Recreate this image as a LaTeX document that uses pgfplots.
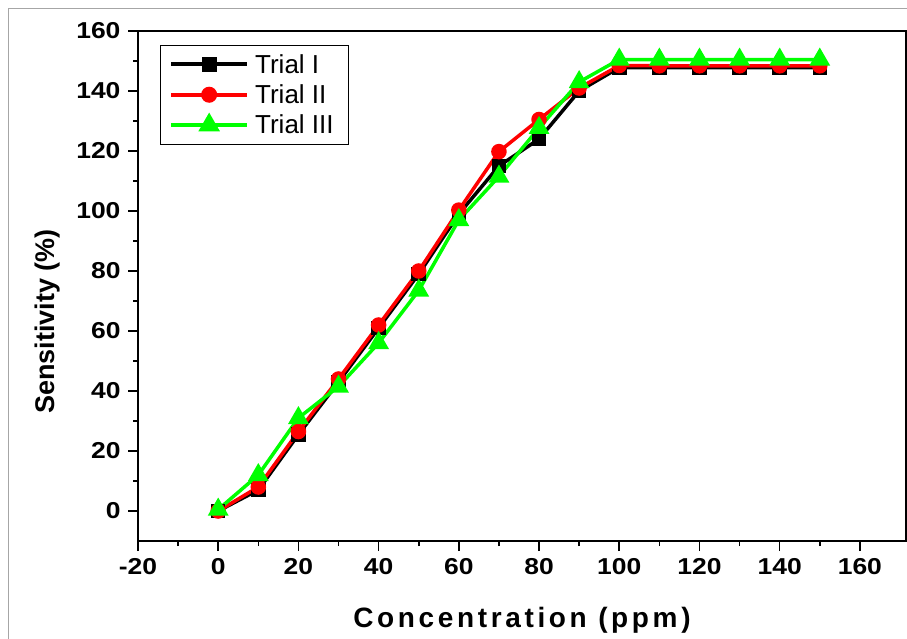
\documentclass[border=0pt]{standalone}
\usepackage{pgfplots}
\pgfplotsset{compat=1.18}
\usepackage{fontspec}
\setmainfont{Liberation Sans}
\newfontfamily\spacedfont[LetterSpace=13]{Liberation Sans}
\newfontfamily\tickfont[FakeStretch=1.15]{Liberation Sans}
\begin{document}
\begin{tikzpicture}
\useasboundingbox (0,0) rectangle (907pt,-638pt);
\draw[gray!70, line width=1pt] (8pt,-8pt) rectangle (930pt,-660pt);
\begin{axis}[
  at={(138pt,-541pt)}, anchor=south west,
  scale only axis, width=768pt, height=510pt,
  xmin=-20, xmax=171.5, ymin=-10, ymax=160,
  xtick={-20,0,...,160}, ytick={0,20,...,160},
  minor x tick num=1, minor y tick num=1,
  tick align=outside, xtick pos=bottom, ytick pos=left,
  major tick length=10pt, minor tick length=5pt,
  axis line style={line width=2pt},
  every tick/.style={line width=1.6pt, black},
  /pgf/number format/assume math mode=true,
  ticklabel style={font=\tickfont\bfseries\fontsize{23}{25}\selectfont},
  xticklabel style={yshift=-4pt},
  yticklabel style={xshift=-4pt},
  xlabel={\spacedfont\bfseries\fontsize{28}{30}\selectfont Concentration (ppm)},
  ylabel={\bfseries\fontsize{27}{29}\selectfont Sensitivity (\%)},
  xlabel style={at={(axis description cs:0.5,-0.155)}, anchor=center},
  ylabel style={at={(axis description cs:-0.118,0.43)}, anchor=center},
  legend style={at={(0.0286,0.9725)}, anchor=north west, draw=black,
    font=\fontsize{26}{28}\selectfont, inner xsep=9pt, inner ysep=7pt, row sep=6pt,
    legend cell align=left,
    nodes={inner xsep=6pt}},
  legend image code/.code={
    \draw[line width=4pt, mark repeat=2,mark phase=2] plot coordinates {(0pt,0pt) (38pt,0pt) (76pt,0pt)};
  },
]
\addplot[black, line width=3.5pt, mark=square*, mark size=5.5pt, mark options={solid}] coordinates {
(0,0) (10,7) (20,25.5) (30,43) (40,61) (50,79) (60,99) (70,115) (80,124) (90,140)
(100,147.8) (110,147.8) (120,147.8) (130,147.8) (140,147.8) (150,147.8)};
\addlegendentry{Trial I}
\addplot[red, line width=3.5pt, mark=*, mark size=6pt, mark options={solid}] coordinates {
(0,0) (10,8) (20,26.5) (30,44) (40,62) (50,80) (60,100.3) (70,119.8) (80,130.5) (90,141)
(100,148.5) (110,148.4) (120,148.4) (130,148.4) (140,148.4) (150,148.4)};
\addlegendentry{Trial II}
\addplot[green, line width=3.5pt, mark=triangle*, mark size=8.5pt, mark options={solid}] coordinates {
(0,0.5) (10,12) (20,31) (30,41.5) (40,56) (50,73.5) (60,97) (70,111.5) (80,127.7) (90,143)
(100,150.5) (110,150.5) (120,150.5) (130,150.5) (140,150.5) (150,150.5)};
\addlegendentry{Trial III}
\end{axis}
\end{tikzpicture}
\end{document}
